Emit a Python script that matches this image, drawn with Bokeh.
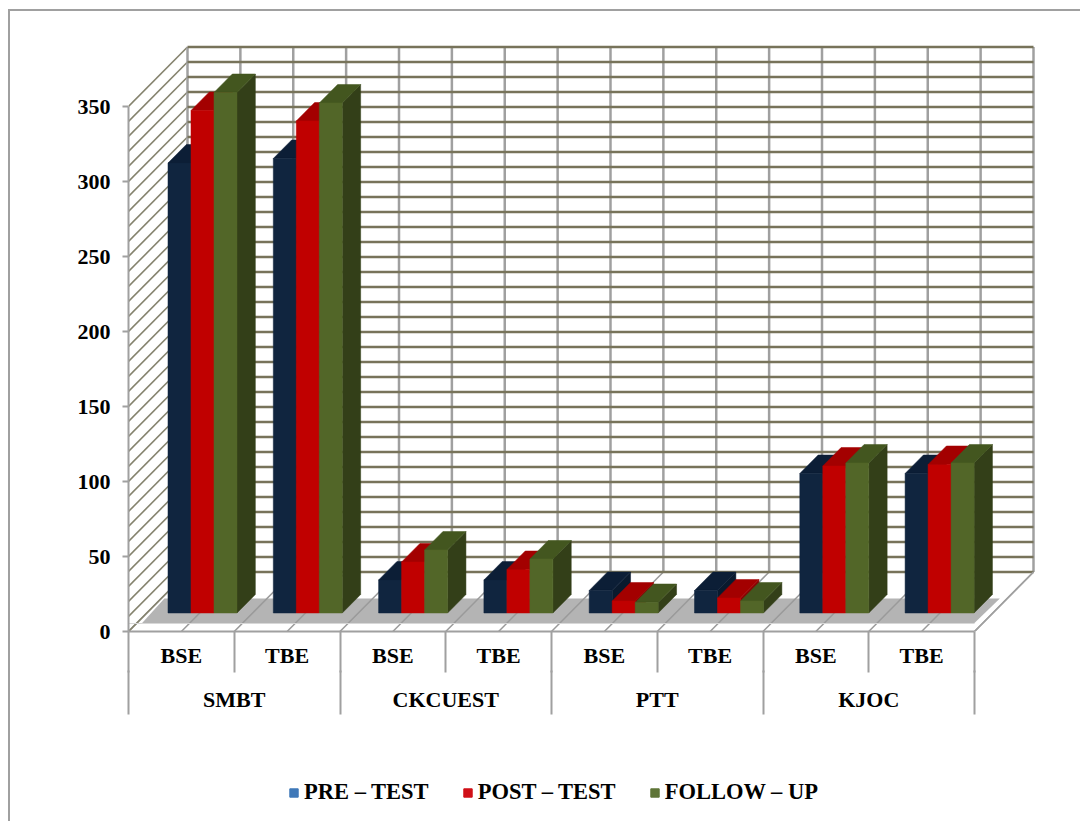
from bokeh.plotting import figure
from bokeh.layouts import column
from bokeh.models import FixedTicker, Legend, LegendItem, LinearAxis, Range1d
from bokeh.embed import file_html
from bokeh.resources import INLINE

groups = ["SMBT", "CKCUEST", "PTT", "KJOC"]
subgroups = ["BSE", "TBE"]
series_names = ["PRE \u2013 TEST", "POST \u2013 TEST", "FOLLOW \u2013 UP"]
pre_test = [300, 303, 22, 22, 15, 15, 93, 93]
post_test = [335, 328, 34, 29, 8, 10, 98, 99]
follow_up = [347, 340, 42, 36, 7, 8, 100, 100]
y_ticks = [0, 50, 100, 150, 200, 250, 300, 350]
grid_values = list(range(0, 360, 10))

front_colors = ["#10253F", "#C00000", "#526628"]
top_colors = ["#0C1E36", "#A30000", "#43561F"]
side_colors = ["#0A1A2E", "#8A0000", "#333F18"]
legend_colors = ["#3F78B8", "#D01018", "#5F7538"]

FONT = "Liberation Serif"
LABEL_SIZE = "22px"

# oblique projection of the 3-D box: t runs from the front plane (0) to the back wall (1)
DX = 59 / 105.75
DY = 59.5 / 1.5
X_MAX = 8
Y_MAX = 350


def px(x, t):
    return x + t * DX


def py(v, t):
    return v + t * DY


border_css = ("linear-gradient(#A0A0A0,#A0A0A0) 8px 9px / 1072px 2px no-repeat,"
              "linear-gradient(#A0A0A0,#A0A0A0) 8px 9px / 2px 812px no-repeat")

p = figure(width=1080, height=725, output_backend="svg", toolbar_location=None,
           frame_width=952, frame_height=631,
           x_range=Range1d(0, 952 / 105.75), y_range=Range1d(0, 631 / 1.5),
           x_axis_location=None, y_axis_location=None,
           min_border_left=128, min_border_right=0, min_border_top=0, min_border_bottom=94)
p.grid.visible = False
p.outline_line_color = None
p.background_fill_alpha = 0
p.border_fill_alpha = 0

# floor shading
p.patch([px(0.05, 0.134), px(0.03, 0.555), px(7.93, 0.555), px(7.92, 0.134)],
        [py(0, 0.134), py(0, 0.555), py(0, 0.555), py(0, 0.134)],
        fill_color="#B4B4B4", line_color=None)

# floor division lines
floor_x = [[px(i / 2, 0), px(i / 2, 1)] for i in range(17)]
floor_y = [[py(0, 0), py(0, 1)] for i in range(17)]
p.multi_line(floor_x, floor_y, line_color="#9A9A9A", line_width=1.5)

# side wall
p.multi_line([[px(0, 0), px(0, 1)] for v in grid_values],
             [[py(v, 0), py(v, 1)] for v in grid_values],
             line_color="#85836E", line_width=1.6)

# back wall
p.multi_line([[px(i / 2, 1), px(i / 2, 1)] for i in range(17)],
             [[py(0, 1), py(Y_MAX, 1)] for i in range(17)],
             line_color="#A0A0A0", line_width=2.5)
p.multi_line([[px(0, 1), px(X_MAX, 1)] for v in grid_values],
             [[py(v, 1), py(v, 1)] for v in grid_values],
             line_color="#77735A", line_width=2.5)
p.segment(px(X_MAX, 0), py(0, 0), px(X_MAX, 1), py(0, 1), line_color="#A0A0A0", line_width=1.6)

# front edge of the floor
p.segment(0, py(0, 0.134), X_MAX, py(0, 0.134), line_color="#D8D8D8", line_width=1)

# bars
T0, T1 = 0.311, 0.622
BAR_W = 23 / 105.75
BAR_START = 0.2
all_series = [pre_test, post_test, follow_up]

xs, ys, colors = [], [], []
for c in range(8):
    for s, values in enumerate(all_series):
        v = values[c]
        x0 = c * (105.3 / 105.75) + BAR_START + s * BAR_W
        x1 = x0 + BAR_W
        xs.append([px(x1, T0), px(x1, T1), px(x1, T1), px(x1, T0)])
        ys.append([py(0, T0), py(0, T1), py(v, T1), py(v, T0)])
        colors.append(side_colors[s])
        xs.append([px(x0, T0), px(x0, T1), px(x1, T1), px(x1, T0)])
        ys.append([py(v, T0), py(v, T1), py(v, T1), py(v, T0)])
        colors.append(top_colors[s])
        xs.append([px(x0, T0), px(x0, T0), px(x1, T0), px(x1, T0)])
        ys.append([py(0, T0), py(v, T0), py(v, T0), py(0, T0)])
        colors.append(front_colors[s])
p.patches(xs, ys, fill_color=colors, line_color=colors, line_width=0.5)

# axes
y_axis = LinearAxis(ticker=FixedTicker(ticks=y_ticks), bounds=(0, Y_MAX))
y_axis.axis_line_color = "#A0A0A0"
y_axis.axis_line_width = 2
y_axis.major_tick_line_color = "#A0A0A0"
y_axis.major_tick_line_width = 2
y_axis.major_tick_out = 6
y_axis.major_tick_in = 0
y_axis.minor_tick_line_color = None
y_axis.major_label_standoff = 12
y_axis.major_label_text_font = FONT
y_axis.major_label_text_font_style = "bold"
y_axis.major_label_text_font_size = LABEL_SIZE
y_axis.major_label_text_color = "black"
p.add_layout(y_axis, "left")

sub_ticks = [i + 0.5 for i in range(8)]
sub_axis = LinearAxis(ticker=FixedTicker(ticks=sub_ticks, minor_ticks=list(range(9))),
                      bounds=(0, X_MAX),
                      major_label_overrides={t: subgroups[i % 2] for i, t in enumerate(sub_ticks)})
sub_axis.axis_line_color = "#A0A0A0"
sub_axis.axis_line_width = 2
sub_axis.major_tick_line_color = None
sub_axis.major_tick_out = 0
sub_axis.major_tick_in = 0
sub_axis.minor_tick_line_color = "#A0A0A0"
sub_axis.minor_tick_line_width = 2
sub_axis.minor_tick_out = 41
sub_axis.minor_tick_in = 0
sub_axis.major_label_standoff = -30
sub_axis.major_label_text_font = FONT
sub_axis.major_label_text_font_style = "bold"
sub_axis.major_label_text_font_size = LABEL_SIZE
sub_axis.major_label_text_color = "black"
p.add_layout(sub_axis, "below")

group_ticks = [1, 3, 5, 7]
group_axis = LinearAxis(ticker=FixedTicker(ticks=group_ticks, minor_ticks=[0, 2, 4, 6, 8]),
                        bounds=(0, X_MAX),
                        major_label_overrides={t: groups[i] for i, t in enumerate(group_ticks)})
group_axis.axis_line_color = None
group_axis.major_tick_line_color = None
group_axis.major_tick_out = 0
group_axis.major_tick_in = 0
group_axis.minor_tick_line_color = "#A0A0A0"
group_axis.minor_tick_line_width = 2
group_axis.minor_tick_out = 44
group_axis.minor_tick_in = 0
group_axis.major_label_standoff = -28
group_axis.major_label_text_font = FONT
group_axis.major_label_text_font_style = "bold"
group_axis.major_label_text_font_size = LABEL_SIZE
group_axis.major_label_text_color = "black"
p.add_layout(group_axis, "below")

# legend strip, a figure of its own below the chart; its key glyphs sit outside the range
q = figure(width=1080, height=96, output_backend="svg", toolbar_location=None,
           x_range=Range1d(0, 1080), y_range=Range1d(0, 96),
           x_axis_location=None, y_axis_location=None, min_border=0)
q.grid.visible = False
q.outline_line_color = None
q.background_fill_alpha = 0
q.border_fill_alpha = 0
items = []
for name, col in zip(series_names, legend_colors):
    r = q.scatter(x=[-50], y=[-50], marker="square", size=13, fill_color=col, line_color=col)
    items.append(LegendItem(label=name, renderers=[r]))
legend = Legend(items=items, orientation="horizontal", location=(155, 16), margin=0, padding=0,
                spacing=28, glyph_width=21, glyph_height=21, label_standoff=0,
                border_line_color=None, background_fill_alpha=0,
                label_text_font=FONT, label_text_font_style="bold",
                label_text_font_size="22.5px", label_text_color="black")
q.add_layout(legend)

page = column(p, q, spacing=0, styles={"background": border_css})

open("out.html", "w").write(file_html(page, INLINE))
